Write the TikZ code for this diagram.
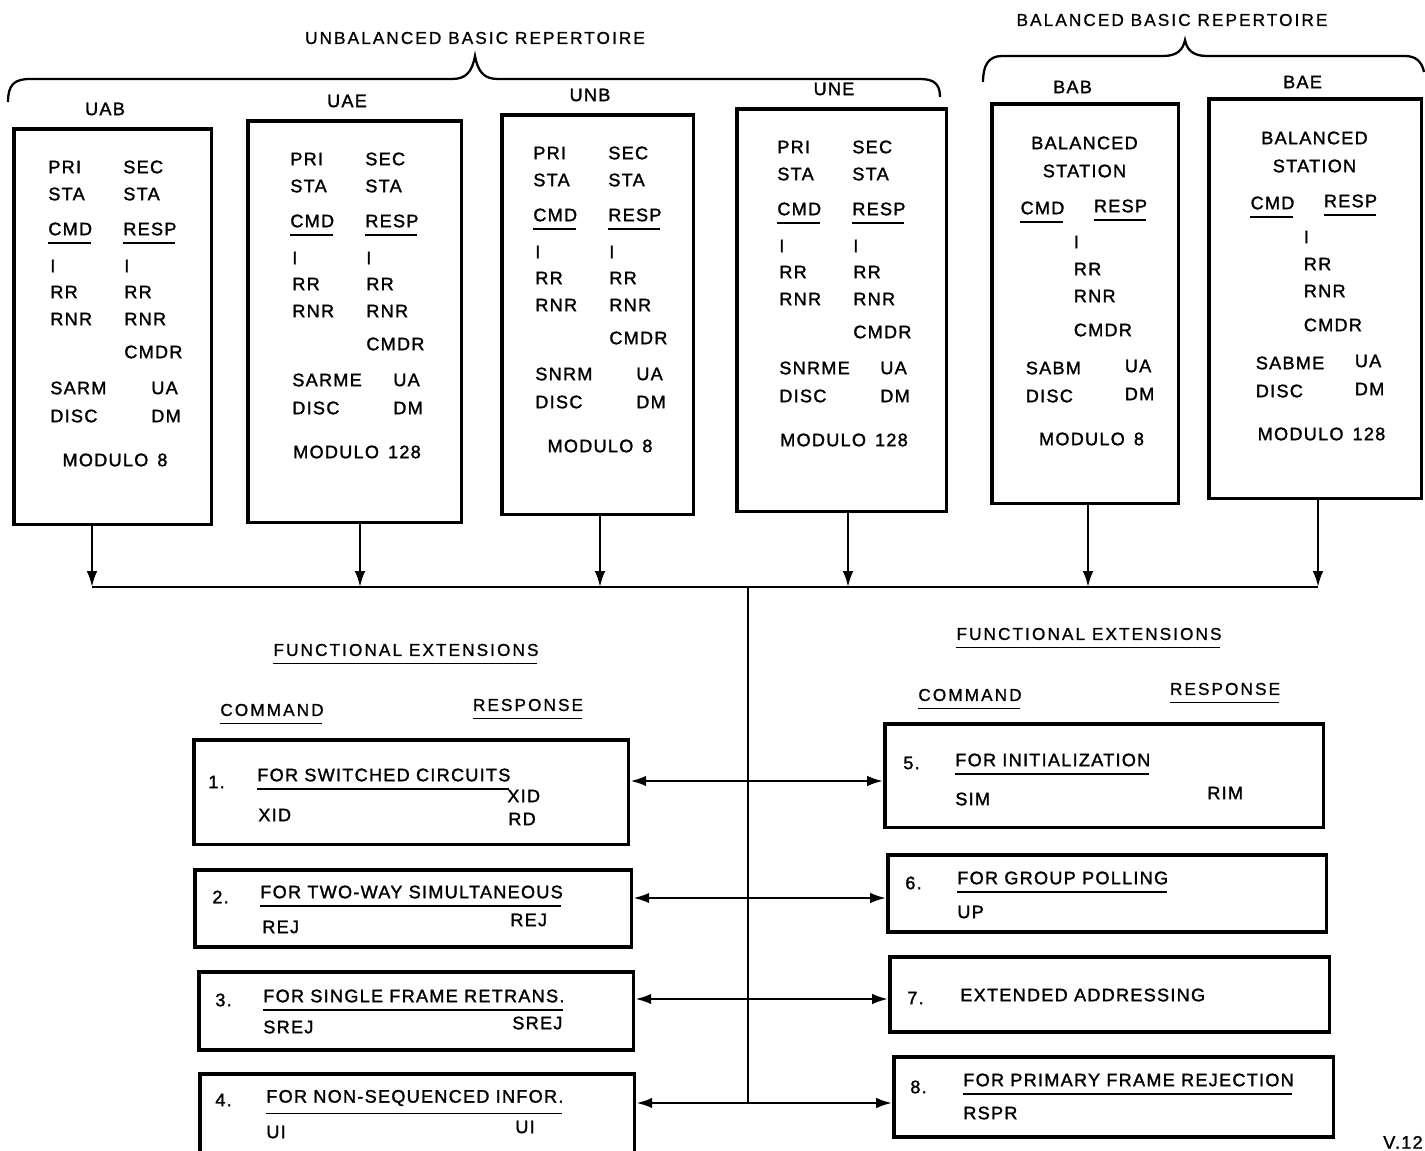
\documentclass[tikz,border=0pt]{standalone}
\usepackage{fontspec}
\setmainfont{Liberation Sans}[LetterSpace=7,FakeBold=1.5]
\newfontfamily\headfont{Liberation Sans}[LetterSpace=12,FakeBold=1]
\usetikzlibrary{arrows.meta,positioning}

\begin{document}
\begin{tikzpicture}[x=0.02cm,y=-0.02cm,font=\fontsize{10.3}{12}\selectfont,
    frame/.style={draw,line width=2pt,anchor=north west,inner sep=0pt},
    txt/.style={inner sep=0pt,anchor=west},
    mid/.style={inner sep=0pt},
    head/.style={inner sep=0pt,font=\headfont\fontsize{9.8}{12}\selectfont},
    ul/.style={append after command={([yshift=-4pt]\tikzlastnode.south west) edge[line width=1pt] ([xshift=-1pt,yshift=-4pt]\tikzlastnode.south east)}},
    arc/.style={draw,line width=1.3pt,-{Latex[length=9pt,width=6pt]}},
    dblarc/.style={draw,line width=1.3pt,{Latex[length=9pt,width=6pt]}-{Latex[length=9pt,width=6pt]}}]
    \useasboundingbox (0,0) rectangle (1425,1151);

    % repertoire braces
    \node[head] (ubr) at (475,38) {UNBALANCED BASIC REPERTOIRE};
    \node[head] (bbr) at (1172,20) {BALANCED BASIC REPERTOIRE};
    \draw[line width=1.3pt] (8,102) .. controls (8,85) and (14,79) .. (30,79) -- (452,79) .. controls (466,79) and (472,72) .. (475,56) .. controls (478,72) and (484,79) .. (498,79) -- (920,79) .. controls (934,79) and (940,84) .. (940,97);
    \draw[line width=1.3pt] (983,82) .. controls (983,66) and (988,56) .. (1002,56) -- (1163,56) .. controls (1177,56) and (1183,50) .. (1185,40) .. controls (1187,50) and (1193,56) .. (1207,56) -- (1405,56) .. controls (1416,56) and (1422,62) .. (1424,72);

    \foreach \nm/\bx/\by/\bw/\bh/\ax/\set/\md in {UAB/12/127/198/396/92/SARM/8,UAE/246/119/214/402/360/SARME/128,UNB/500/113/192/400/600/SNRM/8,UNE/735/107/210/403/848/SNRME/128}{
        \pgfmathsetmacro\c{\bx+\bw/2}
        \node[frame,minimum width=\bw*0.2mm,minimum height=\bh*0.2mm] (\nm) at (\bx,\by) {};
        \node[mid] (\nm-name) at (\c-6,\by-18) {\nm};
        \node[txt] (\nm-pri) at (\c-63,\by+40) {PRI};
        \node[txt] (\nm-sec) at (\c+12,\by+40) {SEC};
        \node[txt] (\nm-sta1) at (\c-63,\by+67) {STA};
        \node[txt] (\nm-sta2) at (\c+12,\by+67) {STA};
        \node[txt,ul] (\nm-cmd) at (\c-63,\by+102) {CMD};
        \node[txt,ul] (\nm-resp) at (\c+12,\by+102) {RESP};
        \foreach \f/\dy in {I/139,RR/165,RNR/192}{
            \node[txt] (\nm-\f-c) at (\c-61,\by+\dy) {\f};
            \node[txt] (\nm-\f-r) at (\c+13,\by+\dy) {\f};
        }
        \node[txt] (\nm-cmdr) at (\c+13,\by+225) {CMDR};
        \node[txt] (\nm-set) at (\c-61,\by+261) {\set};
        \node[txt] (\nm-ua) at (\c+40,\by+261) {UA};
        \node[txt] (\nm-disc) at (\c-61,\by+289) {DISC};
        \node[txt] (\nm-dm) at (\c+40,\by+289) {DM};
        \node[mid] (\nm-mod) at (\c+4,\by+333) {MODULO\enspace\md};
        \coordinate (bus-\nm) at (\ax,587);
        \draw[arc] (\nm.south -| bus-\nm) -- (bus-\nm);
    }

    \foreach \nm/\bx/\by/\bw/\bh/\ax/\set/\md in {BAB/990/102/187/400/1088/SABM/8,BAE/1207/97/213/400/1318/SABME/128}{
        \pgfmathsetmacro\c{\bx+\bw/2}
        \node[frame,minimum width=\bw*0.2mm,minimum height=\bh*0.2mm] (\nm) at (\bx,\by) {};
        \node[mid] (\nm-name) at (\c-11,\by-15) {\nm};
        \node[mid] (\nm-bal) at (\c+1,\by+41) {BALANCED};
        \node[mid] (\nm-stat) at (\c+1,\by+69) {STATION};
        \node[mid,ul] (\nm-cmd) at (\c-41,\by+106) {CMD};
        \node[mid,ul] (\nm-resp) at (\c+37,\by+104) {RESP};
        \foreach \f/\dy in {I/140,RR/167,RNR/194,CMDR/228}{
            \node[txt] (\nm-\f) at (\c-10,\by+\dy) {\f};
        }
        \node[txt] (\nm-set) at (\c-58,\by+266) {\set};
        \node[txt] (\nm-ua) at (\c+41,\by+264) {UA};
        \node[txt] (\nm-disc) at (\c-58,\by+294) {DISC};
        \node[txt] (\nm-dm) at (\c+41,\by+292) {DM};
        \node[mid] (\nm-mod) at (\c+8,\by+337) {MODULO\enspace\md};
        \coordinate (bus-\nm) at (\ax,587);
        \draw[arc] (\nm.south -| bus-\nm) -- (bus-\nm);
    }
    \draw[line width=1.3pt] (bus-UAB) -- (bus-BAE);
    \coordinate (trunk) at (748,587);

    % functional extensions
    \node[head,ul] (fe-l) at (406,650) {FUNCTIONAL EXTENSIONS};
    \node[head,ul] (cmd-l) at (272,710) {COMMAND};
    \node[head,ul] (resp-l) at (528,705) {RESPONSE};
    \node[head,ul] (fe-r) at (1089,634) {FUNCTIONAL EXTENSIONS};
    \node[head,ul] (cmd-r) at (970,695) {COMMAND};
    \node[head,ul] (resp-r) at (1225,689) {RESPONSE};

    \foreach [count=\i] \bx/\by/\bw/\bh/\nx/\ny/\tx/\ty/\st/\ttl in {192/738/435/105/208/782/257/775/ul/FOR SWITCHED CIRCUITS,193/868/437/77/212/897/260/892/ul/FOR TWO-WAY SIMULTANEOUS,197/970/435/78/215/1000/263/996/ul/FOR SINGLE FRAME RETRANS.,198/1072/435/90/215/1100/266/1098/ul/FOR NON-SEQUENCED INFOR.,883/722/439/104/903/763/955/760/ul/FOR INITIALIZATION,886/853/439/77/905/883/957/878/ul/FOR GROUP POLLING,888/955/440/75/907/998/960/995/txt/EXTENDED ADDRESSING,892/1055/440/80/910/1087/963/1080/ul/FOR PRIMARY FRAME REJECTION}{
        \node[frame,minimum width=\bw*0.2mm,minimum height=\bh*0.2mm] (ext\i) at (\bx,\by) {};
        \node[txt] (ext\i-num) at (\nx,\ny) {\i.};
        \node[txt,\st] (ext\i-title) at (\tx,\ty) {\ttl};
    }
    \node[txt] (ext1-cmd) at (258,815) {XID};
    \node[txt] (ext1-resp) at (507,796) {XID};
    \node[txt] (ext1-resp2) at (508,819) {RD};
    \node[txt] (ext2-cmd) at (262,927) {REJ};
    \node[txt] (ext2-resp) at (510,920) {REJ};
    \node[txt] (ext3-cmd) at (263,1027) {SREJ};
    \node[txt] (ext3-resp) at (512,1023) {SREJ};
    \node[txt] (ext4-cmd) at (266,1132) {UI};
    \node[txt] (ext4-resp) at (515,1127) {UI};
    \node[txt] (ext5-cmd) at (955,799) {SIM};
    \node[txt] (ext5-resp) at (1207,793) {RIM};
    \node[txt] (ext6-cmd) at (957,912) {UP};
    \node[txt] (ext8-cmd) at (963,1113) {RSPR};

    \foreach \i/\ry in {1/781,2/898,3/999,4/1103}{
        \pgfmathtruncatemacro\j{\i+4}
        \coordinate (row\i) at (748,\ry);
        \draw[dblarc] (ext\i.east |- row\i) -- (ext\j.west |- row\i);
    }
    \draw[line width=1.3pt] (trunk) -- (row4);

    \node[txt,anchor=south east] (fig) at (1423,1149) {V.12};
\end{tikzpicture}
\end{document}
